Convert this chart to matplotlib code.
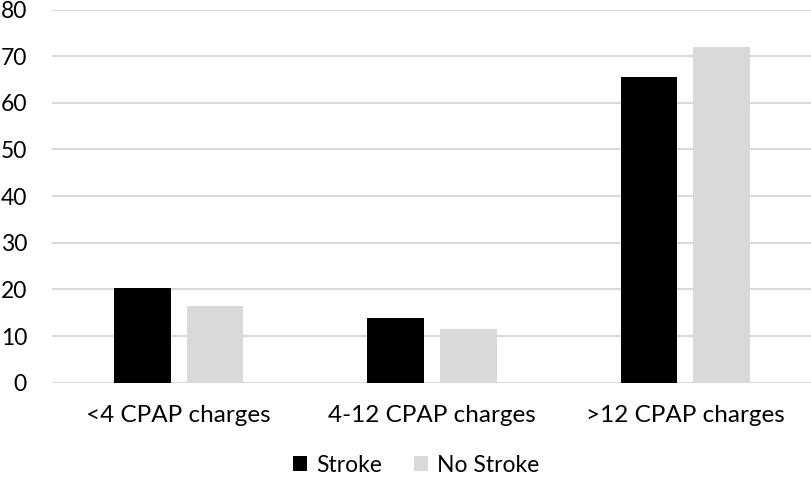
import matplotlib.pyplot as plt
import numpy as np

# data
categories = ['<4 CPAP charges', '4-12 CPAP charges', '>12 CPAP charges']
stroke = [20.4, 13.9, 65.6]
no_stroke = [16.5, 11.5, 72.0]

plt.rcParams['font.family'] = ['Lato', 'DejaVu Sans']

fig = plt.figure(figsize=(8.12, 4.8), dpi=100)
ax = fig.add_axes([52 / 812, 1 - 382.7 / 480, 760 / 812, (382.7 - 9.5) / 480])

x = np.arange(len(categories))
width = 0.224
offset = 0.143

ax.bar(x - offset, stroke, width, color='black', label='Stroke', zorder=3)
ax.bar(x + offset, no_stroke, width, color='#d9d9d9', label='No Stroke', zorder=3)

ax.set_xlim(-0.5, 2.5)
ax.set_ylim(0, 80)
ax.set_yticks(range(0, 81, 10))
ax.set_xticks(x)
ax.set_xticklabels(categories)

ax.grid(axis='y', color='#d9d9d9', linewidth=1.5, zorder=0)
for s in ax.spines.values():
    s.set_visible(False)
ax.tick_params(axis='y', length=0, pad=18, labelsize=16.5, labelcolor='black')
ax.tick_params(axis='x', length=0, pad=16, labelsize=17.5, labelcolor='black')

fig.legend(loc='center', bbox_to_anchor=(416 / 812, 1 - 465 / 480), ncol=2,
           frameon=False, fontsize=16.5, handlelength=0.6, handleheight=0.6,
           handletextpad=0.4, columnspacing=1.4)

fig.savefig('out.png', dpi=100)
